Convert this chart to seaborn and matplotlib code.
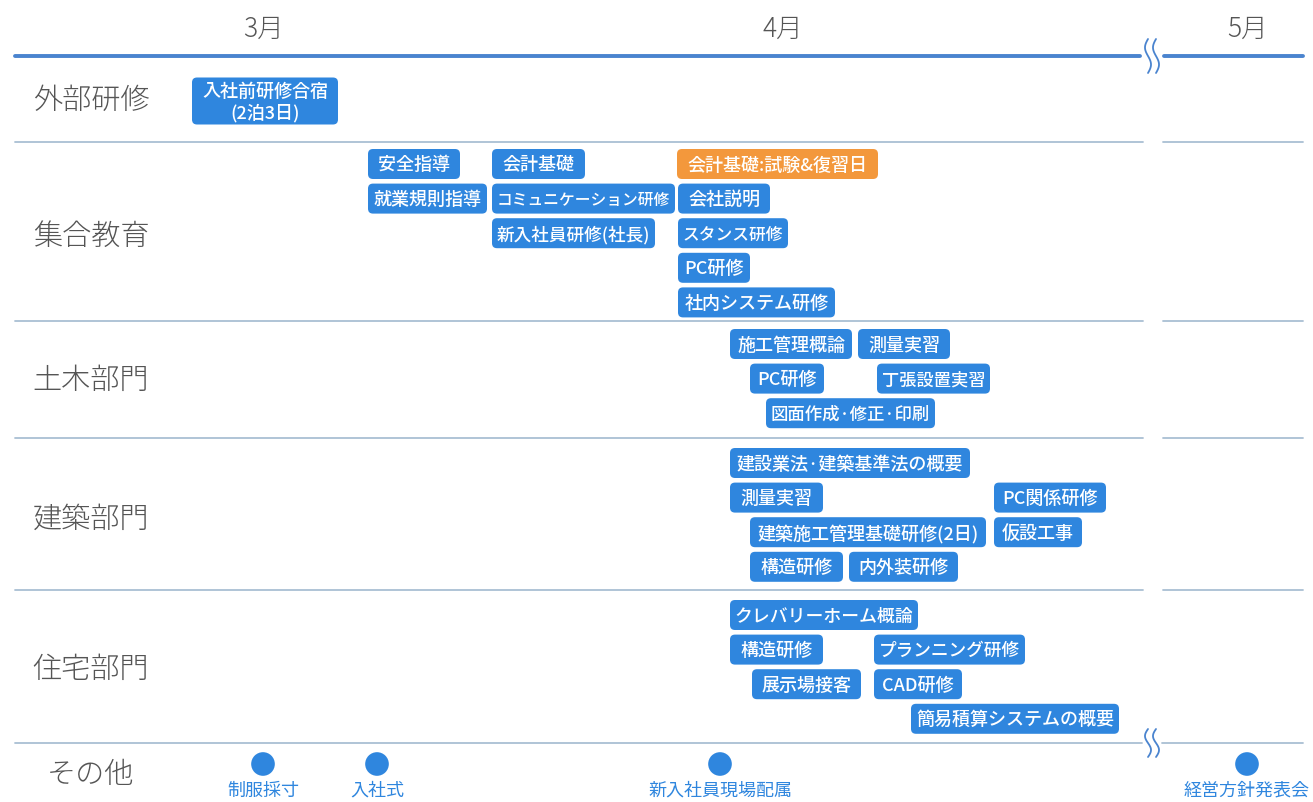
import numpy as np
import pandas as pd
import seaborn as sns
import matplotlib.pyplot as plt
from matplotlib.patches import FancyBboxPatch

### DATA

# month headers on the timeline
months = ['3月', '4月', '5月']
month_pos = [263, 783, 1247]

# row groups
groups = ['外部研修', '集合教育', '土木部門', '建築部門', '住宅部門', 'その他']

# training sessions: label, group, slot (line inside the group), start, end on the timeline
task_labels = ['入社前研修合宿\n(2泊3日)',
               '安全指導', '就業規則指導', '会計基礎', 'コミュニケーション研修', '新入社員研修(社長)',
               '会計基礎:試験&復習日', '会社説明', 'スタンス研修', 'PC研修', '社内システム研修',
               '施工管理概論', '測量実習', 'PC研修', '丁張設置実習', '図面作成·修正·印刷',
               '建設業法·建築基準法の概要', '測量実習', 'PC関係研修', '建築施工管理基礎研修(2日)',
               '仮設工事', '構造研修', '内外装研修',
               'クレバリーホーム概論', '構造研修', 'プランニング研修', '展示場接客', 'CAD研修',
               '簡易積算システムの概要']
task_group = ['外部研修',
              '集合教育', '集合教育', '集合教育', '集合教育', '集合教育',
              '集合教育', '集合教育', '集合教育', '集合教育', '集合教育',
              '土木部門', '土木部門', '土木部門', '土木部門', '土木部門',
              '建築部門', '建築部門', '建築部門', '建築部門', '建築部門', '建築部門', '建築部門',
              '住宅部門', '住宅部門', '住宅部門', '住宅部門', '住宅部門', '住宅部門']
task_slot = [0,
             0, 1, 0, 1, 2, 0, 1, 2, 3, 4,
             0, 0, 1, 1, 2,
             0, 1, 1, 2, 2, 3, 3,
             0, 1, 1, 2, 2, 3]
task_start = [192,
              368, 368, 492, 492, 492, 677, 678, 678, 678, 678,
              730, 858, 750, 877, 766,
              730, 730, 994, 750, 994, 750, 849,
              730, 730, 874, 752, 874, 911]
task_end = [338,
            460, 487, 585, 675, 655, 878, 770, 788, 750, 835,
            852, 950, 824, 990, 935,
            970, 823, 1106, 986, 1082, 843, 958,
            918, 823, 1025, 861, 962, 1119]
task_exam = ['会計基礎:試験&復習日']

# one-day events in その他
event_labels = ['制服採寸', '入社式', '新入社員現場配属', '経営方針発表会']
event_pos = [263, 377, 720, 1247]

df = pd.DataFrame({'label': task_labels, 'group': task_group, 'slot': task_slot,
                   'start': task_start, 'end': task_end})
events = pd.DataFrame({'label': event_labels, 'x': event_pos})

### LAYOUT / STYLE

W, H = 1313, 803
row_lines = [143, 322, 439, 591, 744]
row_label_y = [101, 237, 381, 520, 670, 775]
first_slot_y = {'外部研修': 102, '集合教育': 165, '土木部門': 345, '建築部門': 464, '住宅部門': 616}
slot_pitch = 34.6
break_x = 1152

blue = '#2f86de'
orange = '#f3983c'
line_blue = '#4a84cf'
sep_col = '#a9bfd3'
text_grey = '#555555'

sns.set_theme(style='white')
plt.rcParams['font.family'] = ['Noto Sans CJK JP', 'DejaVu Sans']

fig = plt.figure(figsize=(W / 100, H / 100), dpi=100)
ax = fig.add_axes([0, 0, 1, 1])
ax.set_xlim(0, W)
ax.set_ylim(H, 0)
ax.axis('off')
renderer = fig.canvas.get_renderer()

# squiggle used for the time break
def squiggle(xc, yc, h=34):
    t = np.linspace(-1, 1, 60)
    for dx in (-4, 4):
        ax.plot(xc + dx + 3 * np.sin(t * np.pi), yc + t * h / 2, color=line_blue, lw=1.3,
                solid_capstyle='round')

# month headers + top timeline
for m, x in zip(months, month_pos):
    ax.text(x, 29, m, ha='center', va='center', fontsize=19, color=text_grey, weight='light')
ax.plot([15, break_x - 12], [57, 57], color=line_blue, lw=2.8, solid_capstyle='round')
ax.plot([break_x + 12, 1303], [57, 57], color=line_blue, lw=2.8, solid_capstyle='round')
squiggle(break_x, 57)

# row separators
for i, y in enumerate(row_lines):
    if i == len(row_lines) - 1:
        ax.plot([15, break_x - 10], [y, y], color=sep_col, lw=1.3)
        ax.plot([break_x + 10, 1303], [y, y], color=sep_col, lw=1.3)
        squiggle(break_x, y, h=28)
    else:
        ax.plot([15, 1143], [y, y], color=sep_col, lw=1.3)
        ax.plot([1163, 1303], [y, y], color=sep_col, lw=1.3)

# row labels
for g, y in zip(groups, row_label_y):
    ax.text(91, y, g, ha='center', va='center', fontsize=21, color=text_grey, weight='light')

# task boxes
for _, r in df.iterrows():
    n_lines = r['label'].count('\n') + 1
    h = 30 + 17 * (n_lines - 1)
    yc = first_slot_y[r['group']] + r['slot'] * slot_pitch
    col = orange if r['label'] in task_exam else blue
    box = FancyBboxPatch((r['start'] + 4, yc - h / 2 + 4), r['end'] - r['start'] - 8, h - 8,
                         boxstyle='round,pad=4,rounding_size=5', fc=col, ec='none')
    ax.add_patch(box)
    t = ax.text((r['start'] + r['end']) / 2, yc + 0.5, r['label'], ha='center', va='center',
                fontsize=13, color='white', linespacing=1.2, weight='medium')
    # shrink text a little when it would overflow its box
    tw = t.get_window_extent(renderer).width
    avail = r['end'] - r['start'] - 10
    if tw > avail:
        t.set_fontsize(13 * avail / tw)

# events
sns.scatterplot(data=events, x='x', y=np.full(len(events), 765), s=290, color=blue,
                edgecolor='none', ax=ax, legend=False)
for _, r in events.iterrows():
    ax.text(r['x'], 791, r['label'], ha='center', va='center', fontsize=13, color=blue)

ax.set_xlim(0, W)
ax.set_ylim(H, 0)
ax.axis('off')
fig.savefig('out.png', dpi=100, facecolor='white')
